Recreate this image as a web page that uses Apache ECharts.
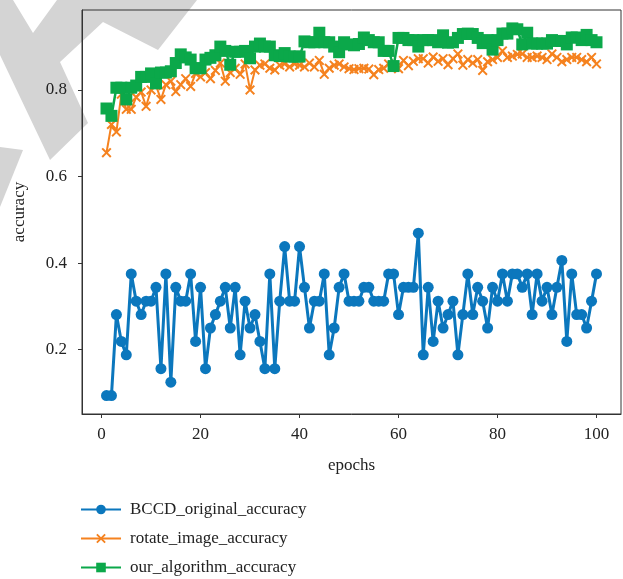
<!DOCTYPE html>
<html>
<head>
<meta charset="utf-8">
<style>
  html, body { margin: 0; padding: 0; background: #ffffff; }
  #chart { width: 623px; height: 579px; }
</style>
<script src="https://cdn.jsdelivr.net/npm/echarts@6/dist/echarts.min.js"></script>
</head>
<body>
<div id="chart"></div>
<script>
// Epoch numbers 1..100 (x values)
const epochs = [
  1,2,3,4,5,6,7,8,9,10,11,12,13,14,15,16,17,18,19,20,
  21,22,23,24,25,26,27,28,29,30,31,32,33,34,35,36,37,38,39,40,
  41,42,43,44,45,46,47,48,49,50,51,52,53,54,55,56,57,58,59,60,
  61,62,63,64,65,66,67,68,69,70,71,72,73,74,75,76,77,78,79,80,
  81,82,83,84,85,86,87,88,89,90,91,92,93,94,95,96,97,98,99,100
];

const bccdOriginal = [
  0.094,0.094,0.281,0.219,0.188,0.375,0.312,0.281,0.312,0.312,
  0.344,0.156,0.375,0.125,0.344,0.312,0.312,0.375,0.219,0.344,
  0.156,0.250,0.281,0.312,0.344,0.250,0.344,0.188,0.312,0.250,
  0.281,0.219,0.156,0.375,0.156,0.312,0.438,0.312,0.312,0.438,
  0.344,0.250,0.312,0.312,0.375,0.188,0.250,0.344,0.375,0.312,
  0.312,0.312,0.344,0.344,0.312,0.312,0.312,0.375,0.375,0.281,
  0.344,0.344,0.344,0.469,0.188,0.344,0.219,0.312,0.250,0.281,
  0.312,0.188,0.281,0.375,0.281,0.344,0.312,0.250,0.344,0.312,
  0.375,0.312,0.375,0.375,0.344,0.375,0.281,0.375,0.312,0.344,
  0.281,0.344,0.406,0.219,0.375,0.281,0.281,0.250,0.312,0.375
];

const rotateImage = [
  0.655,0.720,0.703,0.790,0.755,0.755,0.783,0.795,0.762,0.800,
  0.810,0.778,0.812,0.820,0.796,0.812,0.826,0.808,0.838,0.830,
  0.840,0.826,0.845,0.862,0.820,0.840,0.850,0.836,0.860,0.800,
  0.846,0.857,0.860,0.850,0.846,0.857,0.860,0.853,0.860,0.857,
  0.853,0.862,0.853,0.868,0.836,0.850,0.857,0.860,0.853,0.849,
  0.847,0.849,0.850,0.848,0.835,0.847,0.850,0.860,0.855,0.849,
  0.868,0.856,0.866,0.872,0.872,0.862,0.876,0.866,0.872,0.858,
  0.872,0.883,0.857,0.870,0.862,0.870,0.845,0.865,0.870,0.875,
  0.890,0.875,0.878,0.882,0.883,0.875,0.875,0.878,0.875,0.870,
  0.883,0.875,0.865,0.870,0.875,0.875,0.870,0.865,0.875,0.860
];

const ourAlgorithm = [
  0.757,0.740,0.805,0.805,0.778,0.805,0.810,0.830,0.830,0.838,
  0.815,0.840,0.840,0.843,0.862,0.882,0.875,0.870,0.850,0.850,
  0.870,0.874,0.880,0.900,0.890,0.858,0.888,0.888,0.890,0.873,
  0.900,0.907,0.900,0.900,0.880,0.878,0.885,0.877,0.877,0.877,
  0.912,0.910,0.910,0.932,0.910,0.910,0.900,0.887,0.910,0.905,
  0.903,0.906,0.921,0.915,0.910,0.910,0.890,0.890,0.855,0.920,
  0.920,0.915,0.915,0.900,0.915,0.915,0.915,0.910,0.926,0.909,
  0.910,0.920,0.929,0.930,0.929,0.920,0.908,0.915,0.893,0.915,
  0.930,0.930,0.942,0.940,0.905,0.932,0.907,0.907,0.907,0.907,
  0.915,0.913,0.913,0.905,0.921,0.921,0.915,0.927,0.915,0.910
];

const seriesNames = ['BCCD_original_accuracy', 'rotate_image_accuracy', 'our_algorithm_accuracy'];
const xTicks = [0, 20, 40, 60, 80, 100];
const yTicks = [0.2, 0.4, 0.6, 0.8];

const colors = ['#0b77bd', '#f5821f', '#0ba84a'];
const serif = '"Liberation Serif", "DejaVu Serif", serif';
const crossSymbol = 'path://M0,1.4L1.4,0L5,3.6L8.6,0L10,1.4L6.4,5L10,8.6L8.6,10L5,6.4L1.4,10L0,8.6L3.6,5Z';

function pairs(values) {
  return epochs.map((e, i) => [e, values[i]]);
}

const chart = echarts.init(document.getElementById('chart'), null, { renderer: 'canvas' });

chart.setOption({
  animation: false,
  backgroundColor: '#ffffff',
  textStyle: { fontFamily: serif },
  graphic: [
    {
      type: 'polygon',
      z: -10,
      shape: { points: [[0,0],[13,0],[33,33],[57,0],[197,0],[158,50],[103,22],[60,62],[88,123],[50,160],[0,55]] },
      style: { fill: '#d4d4d4' }
    },
    {
      type: 'polygon',
      z: -10,
      shape: { points: [[0,147],[23,150],[0,207]] },
      style: { fill: '#d4d4d4' }
    }
  ],
  grid: {
    left: 82, top: 10, right: 2, bottom: 165,
    show: true, borderColor: '#333', borderWidth: 1, backgroundColor: 'transparent',
    containLabel: false
  },
  legend: {
    orient: 'vertical',
    left: 80, top: 500, padding: 0,
    itemWidth: 40, itemHeight: 12, itemGap: 10,
    textStyle: { fontFamily: serif, fontSize: 17, lineHeight: 19, color: '#222', padding: [0, 0, 0, 4] },
    data: seriesNames
  },
  xAxis: {
    type: 'value',
    min: -3.95, max: 104.95,
    name: 'epochs', nameLocation: 'middle', nameGap: 43,
    nameTextStyle: { fontFamily: serif, fontSize: 17, color: '#222' },
    axisLine: { show: true, onZero: false, lineStyle: { color: '#333', width: 1 } },
    axisTick: { show: true, inside: false, length: 4, customValues: xTicks, lineStyle: { color: '#333' } },
    axisLabel: { customValues: xTicks, margin: 12, fontFamily: serif, fontSize: 17, color: '#222' },
    splitLine: { show: false }
  },
  yAxis: {
    type: 'value',
    min: 0.0514, max: 0.9845,
    name: 'accuracy', nameLocation: 'middle', nameGap: 54, nameRotate: 90,
    nameTextStyle: { fontFamily: serif, fontSize: 17, color: '#222' },
    axisLine: { show: true, onZero: false, lineStyle: { color: '#333', width: 1 } },
    axisTick: { show: true, inside: false, length: 4, customValues: yTicks, lineStyle: { color: '#333' } },
    axisLabel: { customValues: yTicks, margin: 15, fontFamily: serif, fontSize: 17, color: '#222',
      formatter: v => v.toFixed(1) },
    splitLine: { show: false }
  },
  series: [
    {
      name: seriesNames[0], type: 'line', data: pairs(bccdOriginal),
      symbol: 'circle', symbolSize: 11,
      lineStyle: { color: colors[0], width: 3 },
      itemStyle: { color: colors[0] },
      z: 3
    },
    {
      name: seriesNames[1], type: 'line', data: pairs(rotateImage),
      symbol: crossSymbol, symbolSize: 10,
      lineStyle: { color: colors[1], width: 2 },
      itemStyle: { color: colors[1] },
      z: 4
    },
    {
      name: seriesNames[2], type: 'line', data: pairs(ourAlgorithm),
      symbol: 'rect', symbolSize: 12,
      lineStyle: { color: colors[2], width: 2.5 },
      itemStyle: { color: colors[2] },
      z: 5
    }
  ]
});
</script>
</body>
</html>
